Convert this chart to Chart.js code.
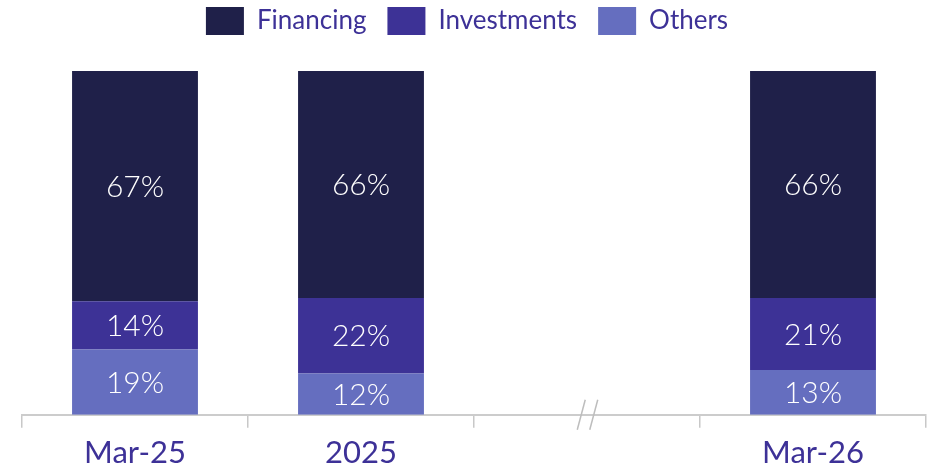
<!DOCTYPE html>
<html>
<head>
<meta charset="utf-8">
<script src="https://cdn.jsdelivr.net/npm/chart.js@4.4.1/dist/chart.umd.min.js"></script>
<style>
  html, body { margin: 0; padding: 0; background: #ffffff; overflow: hidden; width: 927px; height: 472px; }
  #outer { position: relative; width: 927px; height: 472px; overflow: hidden; }
  #wrap { position: absolute; left: 0; top: -14px; width: 927px; height: 496px; }
</style>
</head>
<body>
<div id="outer"><div id="wrap"><canvas id="c" width="927" height="496"></canvas></div></div>
<script>
// ---- data ----
const categories = ['Mar-25', '2025', '', 'Mar-26'];
const financing = [67, 66, null, 66];
const investments = [14, 22, null, 21];
const others = [19, 12, null, 13];
const seriesNames = ['Financing', 'Investments', 'Others'];
const yTicks = [0, 100];

const COLORS = { Financing: '#1f2049', Investments: '#3d3296', Others: '#656ebf' };
const TEXT = '#3d3197';

const legendMargin = {
  id: 'legendMargin',
  beforeInit(chart) {
    const lg = chart.legend;
    if (!lg) return;
    const fit = lg.fit;
    lg.fit = function () { fit.call(this); this.height += 26; };
  },
  afterLayout(chart) {
    if (chart.legend) chart.legend.left -= 14;
  }
};

const segLabels = {
  id: 'segLabels',
  afterDatasetsDraw(chart) {
    const ctx = chart.ctx;
    ctx.save();
    ctx.fillStyle = '#ffffff';
    ctx.font = '300 30px Lato';
    ctx.textAlign = 'center';
    ctx.textBaseline = 'middle';
    chart.data.datasets.forEach((ds, di) => {
      const meta = chart.getDatasetMeta(di);
      meta.data.forEach((el, i) => {
        const v = ds.data[i];
        if (v === null || v === undefined) return;
        ctx.fillText(v + '%', el.x, (el.y + el.base) / 2 + 1);
      });
    });
    ctx.restore();
  }
};

const axisBreak = {
  id: 'axisBreak',
  afterDraw(chart) {
    const xs = chart.scales.x;
    const idx = categories.indexOf('');
    if (idx < 0) return;
    const cx = xs.getPixelForValue(idx) + 0.5;
    const y = chart.chartArea.bottom;
    const ctx = chart.ctx;
    ctx.save();
    ctx.strokeStyle = '#bdbdbd';
    ctx.lineWidth = 1.5;
    [-6.25, 6.25].forEach(o => {
      ctx.beginPath();
      ctx.moveTo(cx + o + 4, y - 15);
      ctx.lineTo(cx + o - 4, y + 15);
      ctx.stroke();
    });
    ctx.restore();
  }
};

const datasets = [
  { label: seriesNames[2], data: others, backgroundColor: COLORS.Others },
  { label: seriesNames[1], data: investments, backgroundColor: COLORS.Investments },
  { label: seriesNames[0], data: financing, backgroundColor: COLORS.Financing }
].map(d => Object.assign(d, { borderWidth: 0, categoryPercentage: 1.0, barPercentage: 0.557 }));

new Chart(document.getElementById('c'), {
  type: 'bar',
  data: { labels: categories, datasets },
  options: {
    responsive: false,
    animation: false,
    devicePixelRatio: 1,
    layout: { padding: { left: 22, right: 1, top: 0, bottom: 3 } },
    plugins: {
      legend: {
        position: 'top',
        reverse: true,
        labels: {
          boxWidth: 38, boxHeight: 28, padding: 21,
          color: TEXT,
          font: { family: 'Lato', size: 26 }
        }
      },
      tooltip: { enabled: false }
    },
    scales: {
      x: {
        stacked: true,
        offset: true,
        grid: { offset: true, drawOnChartArea: false, drawTicks: true, tickLength: 13, color: '#c8c8c8', lineWidth: 1.5 },
        border: { display: true, color: '#cccccc', width: 2 },
        ticks: { color: TEXT, font: { family: 'Lato', size: 31 }, padding: 7, maxRotation: 0, autoSkip: false }
      },
      y: {
        stacked: true,
        display: false,
        min: yTicks[0],
        max: yTicks[1]
      }
    }
  },
  plugins: [legendMargin, segLabels, axisBreak]
});
</script>
</body>
</html>
